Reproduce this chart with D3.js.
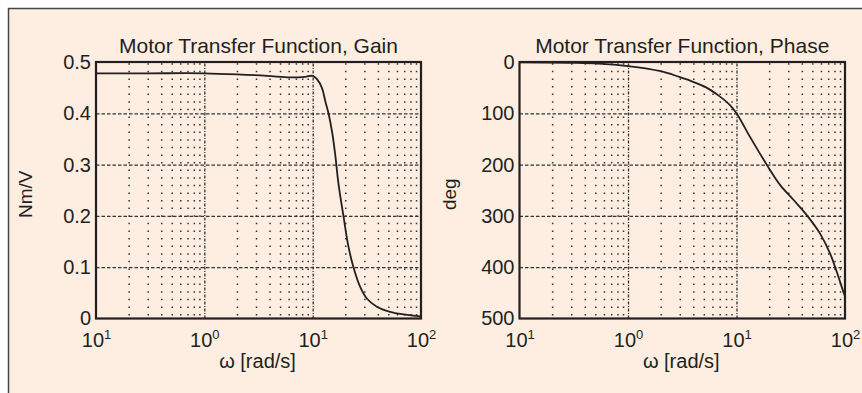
<!DOCTYPE html>
<html><head><meta charset="utf-8">
<script src="https://cdn.jsdelivr.net/npm/d3@7"></script>
<style>
html,body{margin:0;padding:0;background:#fff;}
svg text{font-family:"Liberation Sans",Arial,Helvetica,sans-serif;fill:#231f20;}
</style></head>
<body><svg id="c" width="862" height="393"></svg>
<script>
// ---- data ----
const xTickValues = [0.1, 1, 10, 100];
const xTickExponents = ["1", "0", "1", "2"];   // as printed in the reference
const gainTicks = [0, 0.1, 0.2, 0.3, 0.4, 0.5];
const phaseTicks = [0, 100, 200, 300, 400, 500];

const gainOmega  = [0.1, 0.3, 1, 2, 3.8, 6.2, 8.5, 10, 11, 12.2, 13.1, 14, 15.1, 16.1, 17.3, 19.3, 21.4, 23.8, 27.4, 31.6, 39.1, 51.9, 68.9, 91, 100];
const gainValues = [0.478, 0.478, 0.478, 0.476, 0.473, 0.470, 0.471, 0.473, 0.466, 0.449, 0.423, 0.400, 0.364, 0.322, 0.263, 0.198, 0.140, 0.100, 0.062, 0.039, 0.023, 0.013, 0.008, 0.005, 0.004];

const phaseOmega  = [0.1, 0.3, 0.53, 1, 2, 2.96, 3.6, 5.2, 6.9, 8.7, 10, 13.4, 19.1, 25.3, 33.6, 44.6, 59.1, 73.1, 84.2, 97, 100];
const phaseValues = [0.5, 1.5, 3, 8, 18, 29, 35, 49, 66, 84, 100, 147, 201, 240, 269, 299, 335, 374, 410, 449, 456];

const titles = ["Motor Transfer Function, Gain", "Motor Transfer Function, Phase"];
const yLabels = ["Nm/V", "deg"];
const xLabel = "\u03c9 [rad/s]";

// ---- layout ----
const svg = d3.select("#c");
const ink = "#231f20";
svg.append("rect").attr("x", 8.5).attr("y", 8.5).attr("width", 862).attr("height", 393)
  .attr("fill", "#fdeee1");
svg.append("path").attr("d", "M8.5,393V8.5H862").attr("fill", "none").attr("stroke", "#444").attr("stroke-width", 1.5);

const panels = [
  {x0: 96, x1: 421, omega: gainOmega, vals: gainValues, ticks: gainTicks, dom: [0, 0.5], fmt: d => d === 0 ? "0" : d3.format(".1f")(d), title: titles[0], ylab: yLabels[0], ylabX: 32, invert: false},
  {x0: 519.5, x1: 845, omega: phaseOmega, vals: phaseValues, ticks: phaseTicks, dom: [0, 500], fmt: d => String(d), title: titles[1], ylab: yLabels[1], ylabX: 456, invert: true}
];
const plotTop = 62, plotBottom = 318.5;

panels.forEach(p => {
  const g = svg.append("g");
  const x = d3.scaleLog().domain([0.1, 100]).range([p.x0, p.x1]);
  const y = d3.scaleLinear().domain(p.dom).range(p.invert ? [plotTop, plotBottom] : [plotBottom, plotTop]);
  const w = p.x1 - p.x0, h = plotBottom - plotTop;

  // minor vertical grid (dotted)
  const minor = [];
  [0.1, 1, 10].forEach(d => { for (let k = 2; k <= 9; k++) minor.push(d * k); });
  g.append("g").attr("transform", `translate(0,${plotBottom})`)
    .call(d3.axisBottom(x).tickValues(minor).tickSize(-h).tickFormat(""))
    .call(a => a.select(".domain").remove())
    .call(a => a.selectAll("line").attr("stroke", "#333").attr("stroke-width", 1.5)
      .attr("stroke-dasharray", "1.5,6.1").attr("stroke-dashoffset", -3));
  // major vertical grid
  g.append("g").attr("transform", `translate(0,${plotBottom})`)
    .call(d3.axisBottom(x).tickValues([1, 10]).tickSize(-h).tickFormat(""))
    .call(a => a.select(".domain").remove())
    .call(a => a.selectAll("line").attr("stroke", "#333").attr("stroke-width", 1.3)
      .attr("stroke-dasharray", "3,1.5,1,1.5"));
  // major horizontal grid
  g.append("g").attr("transform", `translate(${p.x0},0)`)
    .call(d3.axisLeft(y).tickValues(p.ticks.filter(t => t !== p.dom[0] && t !== p.dom[1])).tickSize(-w).tickFormat(""))
    .call(a => a.select(".domain").remove())
    .call(a => a.selectAll("line").attr("stroke", "#333").attr("stroke-width", 1.3)
      .attr("stroke-dasharray", "3.5,2"));

  // curve
  const line = d3.line().x((d, i) => x(p.omega[i])).y(d => y(d)).curve(d3.curveCatmullRom.alpha(0.5));
  g.append("path").datum(p.vals).attr("d", line).attr("fill", "none")
    .attr("stroke", ink).attr("stroke-width", 1.8);

  // box
  g.append("rect").attr("x", p.x0).attr("y", plotTop).attr("width", w).attr("height", h)
    .attr("fill", "none").attr("stroke", ink).attr("stroke-width", 2.2);

  // y tick labels
  g.append("g").attr("transform", `translate(${p.x0},0)`)
    .call(d3.axisLeft(y).tickValues(p.ticks).tickSize(0).tickPadding(5).tickFormat(p.fmt))
    .call(a => a.select(".domain").remove())
    .call(a => a.selectAll("text").attr("font-size", 20).attr("fill", ink)
      .attr("font-family", "Liberation Sans, Arial, sans-serif"));

  // x tick labels with exponents
  g.append("g").attr("transform", `translate(0,${plotBottom})`)
    .call(d3.axisBottom(x).tickValues(xTickValues).tickSize(0).tickPadding(0).tickFormat(""))
    .call(a => a.select(".domain").remove())
    .call(a => a.selectAll(".tick text").each(function(d, i) {
      const t = d3.select(this).attr("font-size", 20).attr("fill", ink).attr("y", 28).attr("dy", 0)
        .attr("font-family", "Liberation Sans, Arial, sans-serif").attr("text-anchor", "middle");
      t.text(null);
      t.append("tspan").text("10");
      t.append("tspan").attr("font-size", 13).attr("dy", -8).text(xTickExponents[i]);
    }));

  // title
  g.append("text").attr("x", (p.x0 + p.x1) / 2).attr("y", 53).attr("text-anchor", "middle")
    .attr("font-size", 21).text(p.title);
  // x label
  g.append("text").attr("x", (p.x0 + p.x1) / 2 - 1).attr("y", 368).attr("text-anchor", "middle")
    .attr("font-size", 20).text(xLabel);
  // y label
  g.append("text").attr("transform", `translate(${p.ylabX},${(plotTop + plotBottom) / 2 + 4}) rotate(-90)`)
    .attr("text-anchor", "middle").attr("font-size", 19).text(p.ylab);
});
</script></body></html>
